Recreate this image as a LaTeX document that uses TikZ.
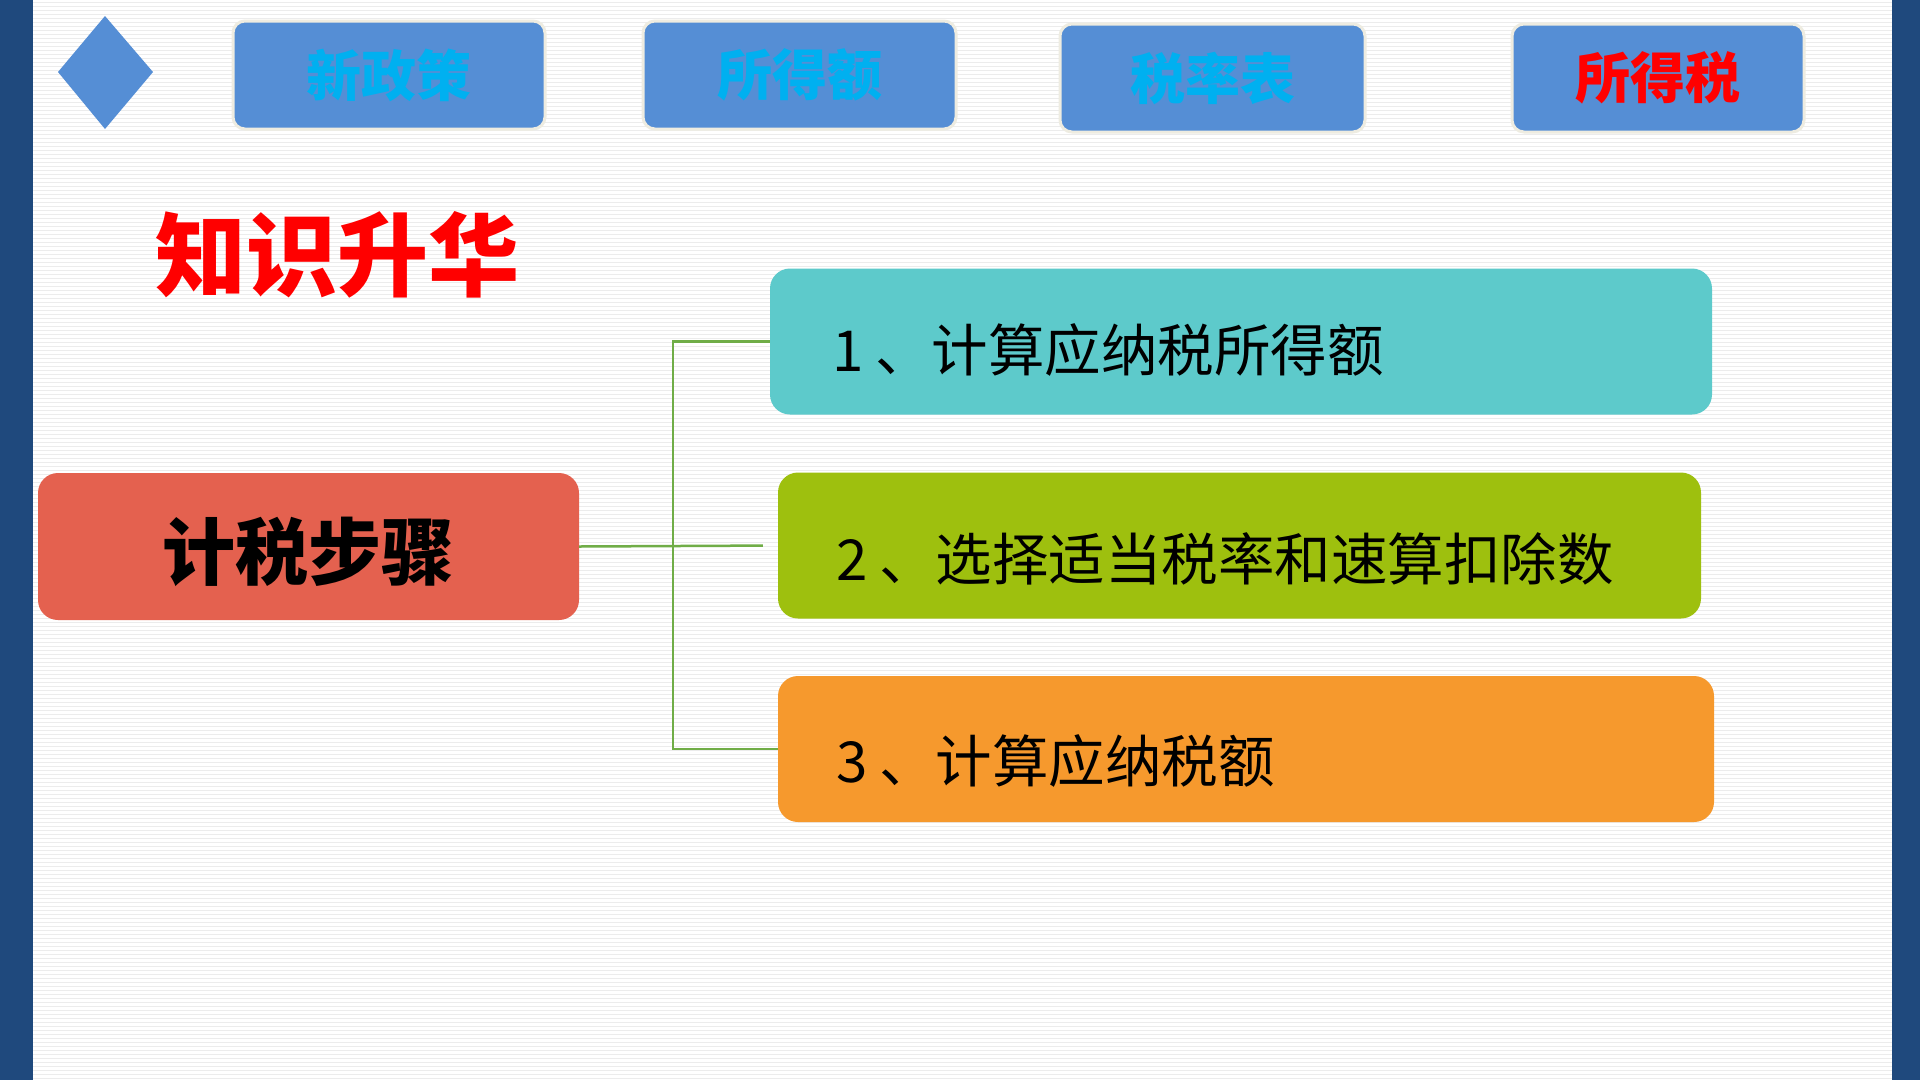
\documentclass[tikz,border=0pt]{standalone}
\usepackage{fontspec}
\newfontfamily\cjk{Noto Sans CJK SC}
\usetikzlibrary{shapes.geometric}
\definecolor{barblue}{RGB}{31,73,125}
\definecolor{topblue}{RGB}{85,142,213}
\definecolor{topedge}{RGB}{238,236,225}
\definecolor{cyantext}{RGB}{0,176,240}
\definecolor{mainred}{RGB}{228,97,79}
\definecolor{teal}{RGB}{93,202,203}
\definecolor{limegreen}{RGB}{158,192,14}
\definecolor{orangebox}{RGB}{246,153,45}
\definecolor{conngreen}{RGB}{112,173,71}
\definecolor{stripe}{RGB}{236,236,236}
\newcommand{\stepsep}{\hspace{12pt}}
\newcommand{\lowered}[2]{\raisebox{-#1}[\height][\depth]{#2}}
\tikzset{
  x=1pt, y=-1pt,
  topbox/.style={rounded corners=12pt, fill=topblue, draw=topedge, line width=3pt,
    minimum height=108pt, inner sep=0pt, font=\cjk\bfseries\fontsize{55}{58}\selectfont},
  stepbox/.style={rounded corners=20pt, minimum height=146pt, text width=#1, align=left,
    inner sep=0pt, font=\cjk\fontsize{56.5}{60}\selectfont, text=black},
  conn/.style={draw=conngreen, line width=2.5pt},
}
\begin{document}
\begin{tikzpicture}
\useasboundingbox (0,0) rectangle (1920,1080);
\fill[white] (0,0) rectangle (1920,1080);
\foreach \yy in {2,6,...,1080} {\draw[stripe, line width=1pt] (33,\yy) -- (1892,\yy);}
\fill[barblue] (0,0) rectangle (33,1080);
\fill[barblue] (1892,0) rectangle (1920,1080);
% diamond
\fill[topblue] (105,16) -- (153,72) -- (105,129) -- (58,72) -- cycle;
% top boxes
\node[topbox, minimum width=312pt, text=cyantext] (b1) at (389,75) {新政策};
\node[topbox, minimum width=313pt, text=cyantext] (b2) at (799.5,75) {所得额};
\node[topbox, minimum width=305pt, text=cyantext] (b3) at (1212.5,78) {税率表};
\node[topbox, minimum width=292pt, text=red] (b4) at (1658,78) {所得税};
% title
\node[font=\cjk\bfseries\fontsize{91}{95}\selectfont, text=red, inner sep=0pt] (title) at (337,255) {知识升华};
% main box
\node[rounded corners=20pt, fill=mainred, minimum width=541pt, minimum height=147pt, inner sep=0pt,
  font=\cjk\bfseries\fontsize{73}{76}\selectfont] (main) at (308.5,546.5) {\lowered{5pt}{计税步骤}};
% step boxes
\node[stepbox=818pt, fill=teal, minimum width=942pt] (s1) at (1241,341.5) {\lowered{8pt}{1\stepsep、计算应纳税所得额}};
\node[stepbox=807pt, fill=limegreen, minimum width=923pt] (s2) at (1239.5,545.5) {\lowered{13pt}{2\stepsep、选择适当税率和速算扣除数}};
\node[stepbox=820pt, fill=orangebox, minimum width=936pt] (s3) at (1246,749) {\lowered{12pt}{3\stepsep、计算应纳税额}};
% connectors
\coordinate (j) at (673,546);
\draw[conn] (s1.west) -| (j) |- (s3.west);
\draw[conn, shorten >=15pt] (main.east) -- (s2.west);
\end{tikzpicture}
\end{document}
